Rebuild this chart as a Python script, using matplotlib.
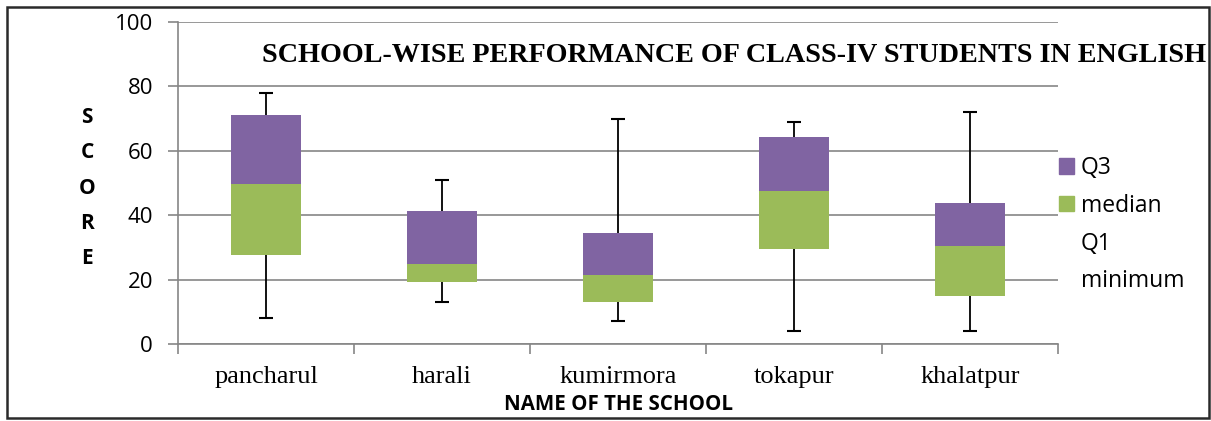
import matplotlib
matplotlib.use("Agg")
import matplotlib.pyplot as plt
import numpy as np
from matplotlib.patches import Patch, Rectangle

schools = ["pancharul", "harali", "kumirmora", "tokapur", "khalatpur"]
minimum = [8, 13, 7, 4, 4]
q1 = [27.6, 19.3, 13.1, 29.5, 14.9]
median = [49.7, 24.9, 21.4, 47.4, 30.4]
q3 = [71.0, 41.4, 34.4, 64.2, 43.7]
maximum = [78, 51, 70, 69, 72]

purple = "#8064A2"
green = "#9BBB59"
grid_c = "#868686"

fig = plt.figure(figsize=(12.11, 4.21), dpi=100)
ax = fig.add_axes([178/1211, 77/421, 880/1211, 322/421])

x = np.arange(len(schools))
q1a = np.array(q1); meda = np.array(median); q3a = np.array(q3)
mina = np.array(minimum); maxa = np.array(maximum)

w = 0.4
ax.bar(x, meda - q1a, w, bottom=q1a, color=green, zorder=3)
ax.bar(x, q3a - meda, w, bottom=meda, color=purple, zorder=3)

# whiskers
ax.vlines(x, q3a, maxa, colors='black', linewidth=1.3, zorder=2)
ax.vlines(x, mina, q1a, colors='black', linewidth=1.3, zorder=2)
ax.plot(x, maxa, linestyle='none', marker='_', markersize=10,
        markeredgewidth=1.5, color='black', zorder=2)
ax.plot(x, mina, linestyle='none', marker='_', markersize=10,
        markeredgewidth=1.5, color='black', zorder=2)

ax.set_xlim(-0.5, len(schools) - 0.5)
ax.set_ylim(0, 100)
ax.set_yticks(np.arange(0, 101, 20))
ax.yaxis.grid(True, color=grid_c, linewidth=1.2, zorder=0)
ax.set_axisbelow(True)
for s in ["top", "right"]:
    ax.spines[s].set_visible(False)
for s in ["left", "bottom"]:
    ax.spines[s].set_color(grid_c)
    ax.spines[s].set_linewidth(1.2)

ax.set_xticks(x)
ax.set_xticklabels(schools, fontfamily="Liberation Serif", fontsize=19)
ax.set_xticks(np.arange(-0.5, len(schools), 1), minor=True)
ax.tick_params(axis='x', which='major', length=0, pad=16)
ax.tick_params(axis='x', which='minor', length=7, color=grid_c, width=1.2)
ax.tick_params(axis='y', length=7, color=grid_c, width=1.2, labelsize=16, pad=11)
for lab in ax.get_yticklabels():
    lab.set_fontfamily("Open Sans")

ax.set_xlabel("NAME OF THE SCHOOL", fontfamily="Open Sans", fontweight="bold",
              fontsize=14.8, va="center")
ax.xaxis.set_label_coords(0.5, -60/322)
ax.set_ylabel("S\nC\nO\nR\nE", rotation=0, fontfamily="Open Sans",
              fontweight="bold", fontsize=15, linespacing=1.88,
              va="center", ha="center")
ax.yaxis.set_label_coords(-91/880, (344 - 188)/322)

fig.text(262/1211, 1 - 55/421, "SCHOOL-WISE PERFORMANCE OF CLASS-IV STUDENTS IN ENGLISH",
         fontfamily="Liberation Serif", fontweight="bold", fontsize=20.25,
         ha="left", va="center")

handles = [Patch(color=purple), Patch(color=green),
           Patch(color='none'), Patch(color='none')]
labels = ["Q3", "median", "Q1", "minimum"]
leg = fig.legend(handles, labels, loc="upper left",
                 bbox_to_anchor=(1059/1211, 1 - 156/421), frameon=False,
                 prop={"family": "Open Sans", "size": 16.5},
                 handlelength=0.66, handleheight=0.66, handletextpad=0.3,
                 labelspacing=0.6, borderaxespad=0, borderpad=0)

fig.add_artist(Rectangle((7/1211, 3/421), 1202/1211, 411/421, transform=fig.transFigure,
                         fill=False, edgecolor="#2a2a2a", linewidth=1.8))

fig.savefig("out.png", dpi=100)
